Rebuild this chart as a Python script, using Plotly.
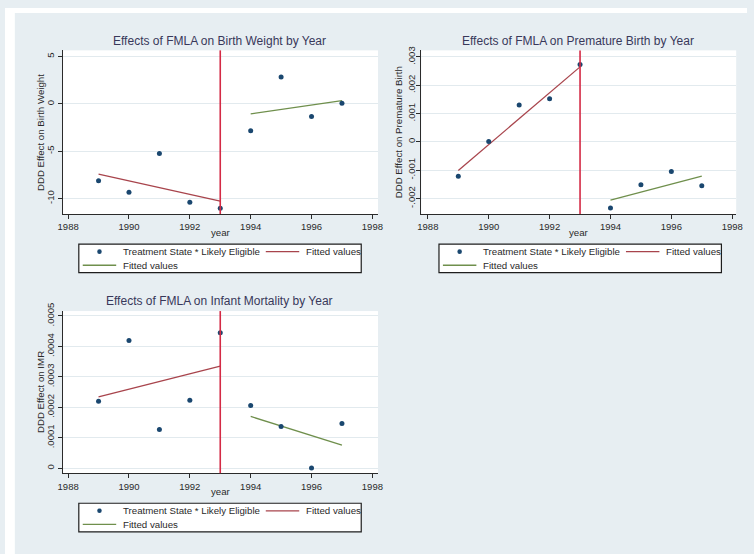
import plotly.graph_objects as go

W, H = 754, 554

# ---------------- data ----------------
years = [1989, 1990, 1991, 1992, 1993, 1994, 1995, 1996, 1997]
birth_weight = [-8.13, -9.33, -5.23, -10.40, -11.03, -2.85, 2.85, -1.33, 0.07]
premature = [-0.00121, 0.00001, 0.00130, 0.00152, 0.00273, -0.00234, -0.00151, -0.00105, -0.00155]
imr = [0.000220, 0.000419, 0.000127, 0.000223, 0.000445, 0.000206, 0.000137, 0.000001, 0.000147]

fit_pre_years = [1989, 1993]
fit_post_years = [1994, 1997]
bw_fit_pre = [-7.42, -10.27]
bw_fit_post = [-1.06, 0.35]
pb_fit_pre = [-0.00101, 0.00265]
pb_fit_post = [-0.00206, -0.00121]
imr_fit_pre = [0.000234, 0.000335]
imr_fit_post = [0.000170, 0.000076]

policy_year = 1993

x_ticks = [1988, 1990, 1992, 1994, 1996, 1998]
bw_ticks = [-10, -5, 0, 5]
bw_ticktext = ["-10", "-5", "0", "5"]
pb_ticks = [-0.002, -0.001, 0, 0.001, 0.002, 0.003]
pb_ticktext = ["-.002", "-.001", "0", ".001", ".002", ".003"]
imr_ticks = [0, 0.0001, 0.0002, 0.0003, 0.0004, 0.0005]
imr_ticktext = ["0", ".0001", ".0002", ".0003", ".0004", ".0005"]

titles = ["Effects of FMLA on Birth Weight by Year",
          "Effects of FMLA on Premature Birth by Year",
          "Effects of FMLA on Infant Mortality by Year"]
y_titles = ["DDD Effect on Birth Weight", "DDD Effect on Premature Birth", "DDD Effect on IMR"]
x_title = "year"
legend_labels = ["Treatment State * Likely Eligible", "Fitted values", "Fitted values"]

# ---------------- styling ----------------
FONT = "Liberation Sans, Arial, sans-serif"
BG = "#e7eef2"
GRID = "#e2eaee"
AXIS = "#2b2b2b"
NAVY = "#1a476f"
MAROON = "#a8444c"
GREEN = "#6f8f4c"
VLINE = "#d42a45"
TITLE_C = "#38385a"
TEXT_C = "#2a2a2a"


def px(x):
    return x / W


def py(y):
    return 1 - y / H


panels = [
    dict(box=(59, 379, 43, 209), xr=[1987.833, 1998.184], yr=[-11.635, 5.656],
         y=birth_weight, pre=bw_fit_pre, post=bw_fit_post, tv=bw_ticks, tt=bw_ticktext, so=0),
    dict(box=(423, 743, 43, 209), xr=[1987.783, 1998.13], yr=[-0.002547, 0.003233],
         y=premature, pre=pb_fit_pre, post=pb_fit_post, tv=pb_ticks, tt=pb_ticktext, so=-3),
    dict(box=(59, 379, 307.5, 472), xr=[1987.833, 1998.184], yr=[-0.0000162, 0.000516],
         y=imr, pre=imr_fit_pre, post=imr_fit_post, tv=imr_ticks, tt=imr_ticktext, so=0),
]

fig = go.Figure()
layout = dict(
    width=W, height=H, margin=dict(l=0, r=0, t=0, b=0),
    paper_bgcolor=BG, plot_bgcolor="white", showlegend=False,
    font=dict(family=FONT, size=9.5, color=TEXT_C),
)
shapes = [
    dict(type="rect", xref="paper", yref="paper", x0=0, x1=1, y0=py(5), y1=1,
         fillcolor="white", line=dict(width=0), layer="below"),
    dict(type="rect", xref="paper", yref="paper", x0=0, x1=px(10), y0=0, y1=1,
         fillcolor="white", line=dict(width=0), layer="below"),
]
annotations = []

for i, p in enumerate(panels):
    n = "" if i == 0 else str(i + 1)
    xa, ya = "x" + n, "y" + n
    x0, x1, y0, y1 = p["box"]
    layout["xaxis" + n] = dict(
        domain=[px(x0), px(x1)], range=p["xr"], anchor=ya,
        tickvals=x_ticks, ticks="outside", ticklen=4, tickwidth=1, tickcolor=AXIS,
        showline=True, linecolor=AXIS, linewidth=1, showgrid=False, zeroline=False,
        tickfont=dict(size=9.5, color=TEXT_C),
    )
    layout["yaxis" + n] = dict(
        domain=[py(y1), py(y0)], range=p["yr"], anchor=xa,
        tickvals=p["tv"], ticktext=p["tt"], tickangle=-90,
        ticks="outside", ticklen=4, tickwidth=1, tickcolor=AXIS,
        showline=True, linecolor=AXIS, linewidth=1,
        showgrid=True, gridcolor=GRID, gridwidth=1, zeroline=False,
        tickfont=dict(size=9.5, color=TEXT_C), ticklabelstandoff=p["so"],
    )
    shapes.append(dict(type="line", xref=xa, yref=ya + " domain", x0=policy_year, x1=policy_year,
                       y0=0, y1=1, line=dict(color=VLINE, width=1.6), layer="above"))
    fig.add_trace(go.Scatter(x=fit_pre_years, y=p["pre"], mode="lines", xaxis=xa, yaxis=ya,
                             line=dict(color=MAROON, width=1.3), name=legend_labels[1]))
    fig.add_trace(go.Scatter(x=fit_post_years, y=p["post"], mode="lines", xaxis=xa, yaxis=ya,
                             line=dict(color=GREEN, width=1.3), name=legend_labels[2]))
    fig.add_trace(go.Scatter(x=years, y=p["y"], mode="markers", xaxis=xa, yaxis=ya,
                             marker=dict(color=NAVY, size=5, line=dict(width=0)),
                             name=legend_labels[0]))

    cx = (x0 + x1) / 2
    cy = (y0 + y1) / 2
    annotations.append(dict(xref="paper", yref="paper", x=px(cx - 1), y=py(y0 - 10),
                            text=titles[i], showarrow=False, xanchor="center", yanchor="middle",
                            font=dict(size=12, color=TITLE_C)))
    annotations.append(dict(xref="paper", yref="paper", x=px(x0 - 23.5), y=py(cy),
                            text=y_titles[i], showarrow=False, textangle=-90,
                            xanchor="center", yanchor="middle",
                            font=dict(size=9.7, color=TEXT_C)))
    annotations.append(dict(xref="paper", yref="paper", x=px(cx), y=py(y1 + 19),
                            text=x_title, showarrow=False, xanchor="center", yanchor="middle",
                            font=dict(size=9.7, color=TEXT_C)))

    lx0 = x0 + 16 if i != 1 else x0 + 18
    ly0 = y1 + 30.5
    lx1 = lx0 + 287
    ly1 = ly0 + 29
    shapes.append(dict(type="rect", xref="paper", yref="paper", x0=px(lx0), x1=px(lx1),
                       y0=py(ly1), y1=py(ly0), fillcolor="white",
                       line=dict(color="#1e1e1e", width=1.2), layer="above"))
    r1 = ly0 + 7.7
    r2 = ly0 + 21.5
    shapes.append(dict(type="circle", xref="paper", yref="paper",
                       x0=px(lx0 + 21 - 2.3), x1=px(lx0 + 21 + 2.3),
                       y0=py(r1 + 2.3), y1=py(r1 - 2.3),
                       fillcolor=NAVY, line=dict(width=0), layer="above"))
    annotations.append(dict(xref="paper", yref="paper", x=px(lx0 + 43), y=py(r1),
                            text=legend_labels[0], showarrow=False, xanchor="left", yanchor="middle",
                            font=dict(size=9.7, color=TEXT_C)))
    shapes.append(dict(type="line", xref="paper", yref="paper", x0=px(lx0 + 190), x1=px(lx0 + 224),
                       y0=py(r1), y1=py(r1), line=dict(color=MAROON, width=1.3), layer="above"))
    annotations.append(dict(xref="paper", yref="paper", x=px(lx0 + 229), y=py(r1),
                            text=legend_labels[1], showarrow=False, xanchor="left", yanchor="middle",
                            font=dict(size=9.7, color=TEXT_C)))
    shapes.append(dict(type="line", xref="paper", yref="paper", x0=px(lx0 + 4), x1=px(lx0 + 38),
                       y0=py(r2), y1=py(r2), line=dict(color=GREEN, width=1.3), layer="above"))
    annotations.append(dict(xref="paper", yref="paper", x=px(lx0 + 43), y=py(r2),
                            text=legend_labels[2], showarrow=False, xanchor="left", yanchor="middle",
                            font=dict(size=9.7, color=TEXT_C)))

layout["shapes"] = shapes
layout["annotations"] = annotations
fig.update_layout(**layout)
fig.write_html(
    "out.html",
    config={"displayModeBar": False},
    post_script=(
        "document.documentElement.style.margin='0';"
        "document.body.style.margin='0';document.body.style.padding='0';"
        "var gd=document.getElementById('{plot_id}');"
        "gd.style.position='fixed';gd.style.left='0px';gd.style.top='0px';"
    ),
)
